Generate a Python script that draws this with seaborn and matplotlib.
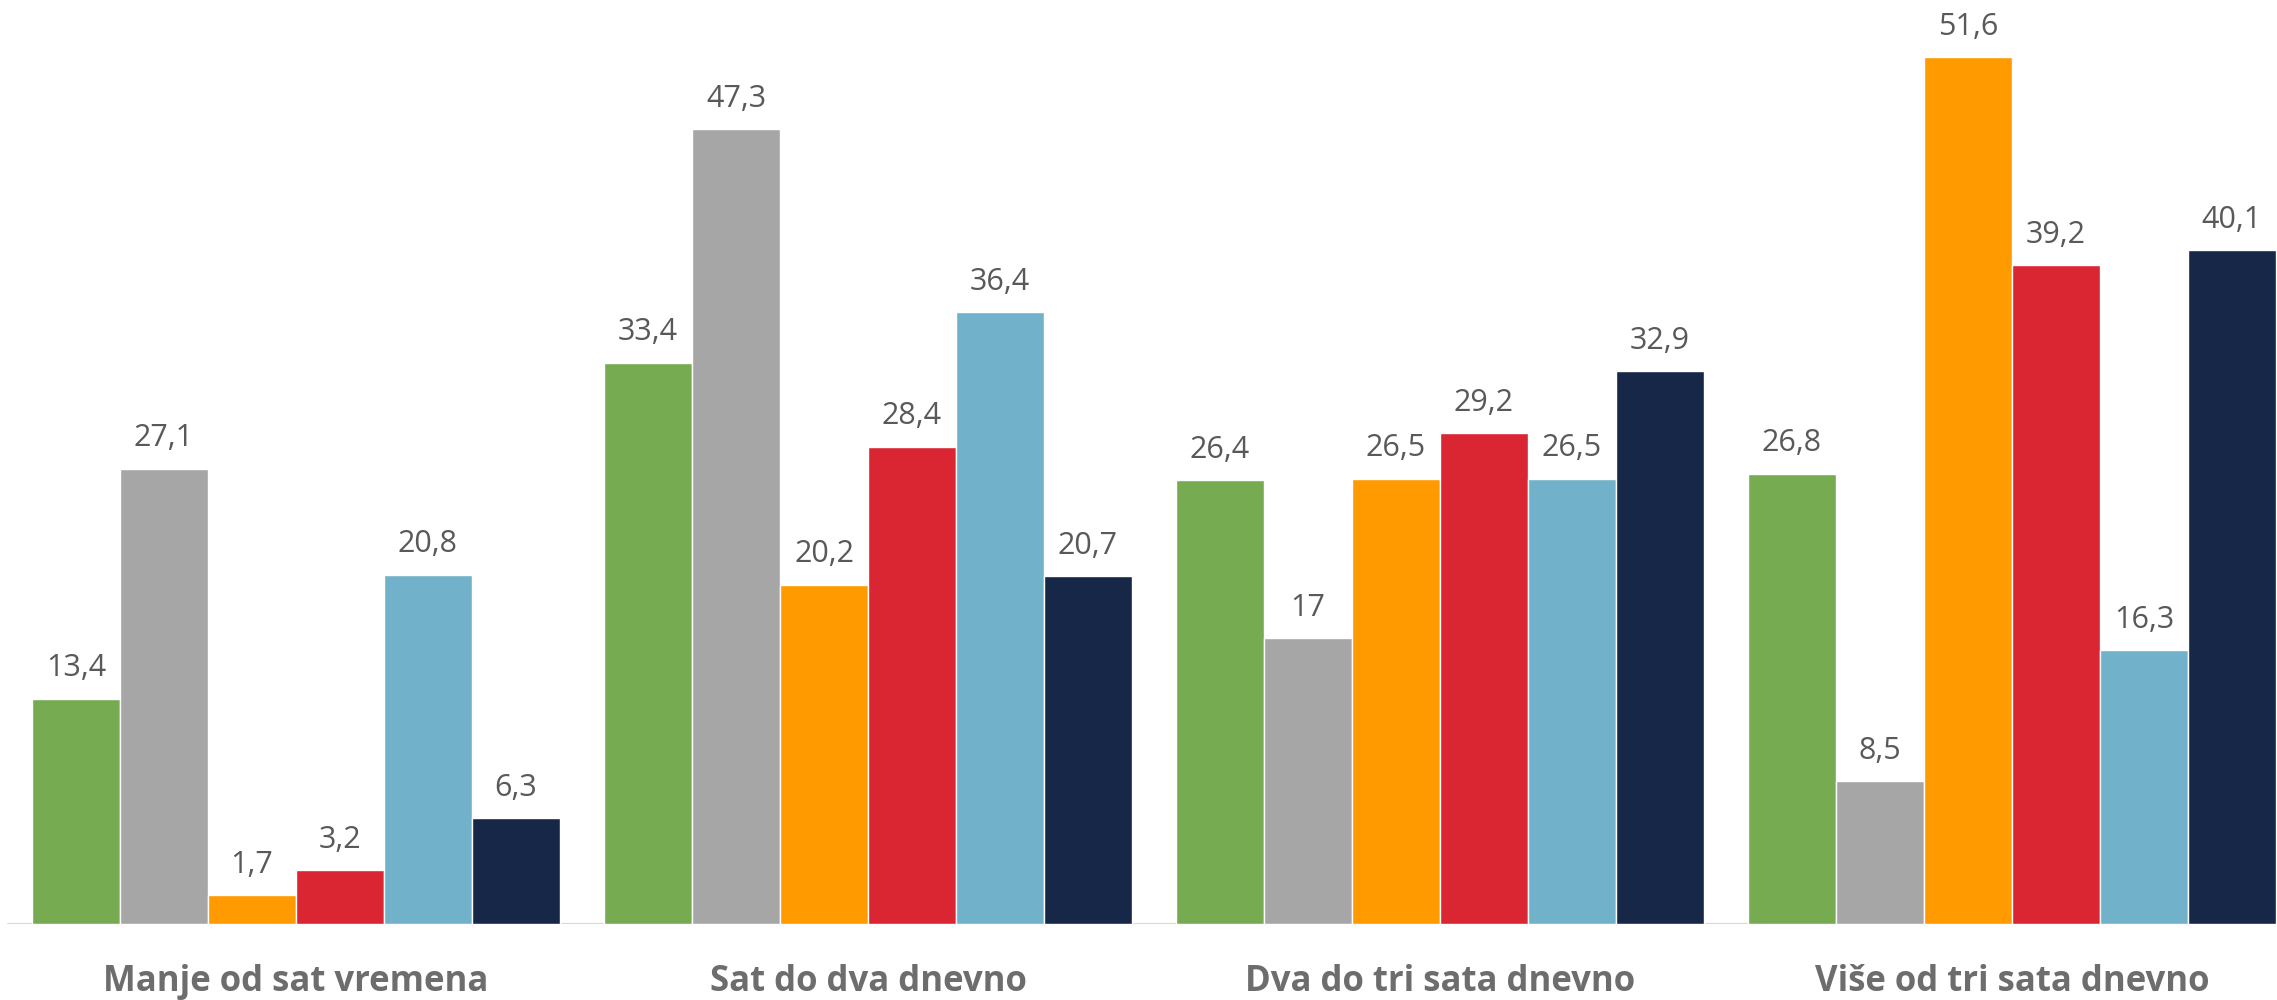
import matplotlib
matplotlib.use("Agg")
import matplotlib.pyplot as plt
import seaborn as sns
import pandas as pd

# Daily time categories and the six groups compared in each
categories = ["Manje od sat vremena", "Sat do dva dnevno",
              "Dva do tri sata dnevno", "Više od tri sata dnevno"]
groups = ["G1", "G2", "G3", "G4", "G5", "G6"]

g1 = [13.4, 33.4, 26.4, 26.8]
g2 = [27.1, 47.3, 17.0, 8.5]
g3 = [1.7, 20.2, 26.5, 51.6]
g4 = [3.2, 28.4, 29.2, 39.2]
g5 = [20.8, 36.4, 26.5, 16.3]
g6 = [6.3, 20.7, 32.9, 40.1]

colors = ["#76AB51", "#A6A6A6", "#FF9A00", "#DA2532", "#71B1C9", "#162747"]

rows = []
for name, vals in zip(groups, [g1, g2, g3, g4, g5, g6]):
    for cat, v in zip(categories, vals):
        rows.append({"kategorija": cat, "grupa": name, "vrijednost": v})
df = pd.DataFrame(rows)

sns.set_theme(style="white")
plt.rcParams["font.family"] = ["Open Sans", "DejaVu Sans"]

fig = plt.figure(figsize=(22.77, 10), dpi=100)
ax = fig.add_axes([0, 0.076, 1, 0.924])

sns.barplot(data=df, x="kategorija", y="vrijednost", hue="grupa",
            order=categories, hue_order=groups, palette=colors,
            saturation=1, width=0.923, edgecolor="white", linewidth=1.0,
            legend=False, ax=ax)

ax.set_xlim(-296 / 572, (2277 - 296) / 572)
ax.set_ylim(0, 55.0)


def fmt(v):
    return f"{v:g}".replace(".", ",")


for cont in ax.containers:
    for patch, v in zip(cont.patches, cont.datavalues):
        ax.annotate(fmt(v),
                    xy=(patch.get_x() + patch.get_width() / 2, patch.get_height()),
                    xytext=(0, 22), textcoords="offset points",
                    ha="center", va="center", fontsize=22, color="#595959")

for s in ax.spines.values():
    s.set_visible(False)
ax.axhline(0, xmin=8 / 2277, xmax=1, color="#D9D9D9", lw=1.6, zorder=0)

ax.set_yticks([])
ax.set_xlabel("")
ax.set_ylabel("")
ax.tick_params(axis="x", length=0, pad=29)
for lbl in ax.get_xticklabels():
    lbl.set_fontsize(25)
    lbl.set_fontweight("bold")
    lbl.set_color("#6D6D6D")

fig.savefig("out.png", dpi=100, facecolor="white")
